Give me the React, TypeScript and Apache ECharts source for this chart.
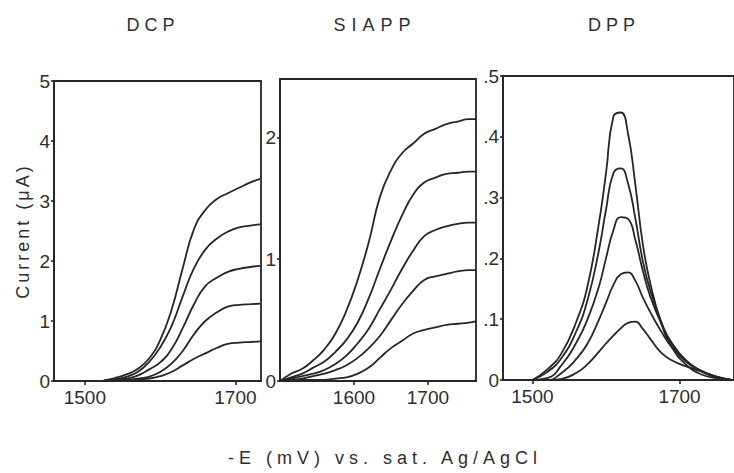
import React, { useEffect, useRef } from "react";
import * as echarts from "echarts";

// ---------- data ----------
const panelTitles = ["DCP", "SIAPP", "DPP"];
const yAxisName = "Current (μA)";
const xAxisName = "-E (mV) vs. sat. Ag/AgCl";

// DCP panel (µA)
const dcpX = [1525, 1540, 1555, 1570, 1585, 1600, 1615, 1630, 1645, 1660, 1675, 1690, 1705, 1720, 1733];
const dcp5 = [0.01, 0.05, 0.11, 0.2, 0.37, 0.68, 1.18, 1.88, 2.53, 2.85, 3.03, 3.13, 3.22, 3.31, 3.37];
const dcp4 = [0, 0.03, 0.07, 0.15, 0.31, 0.56, 0.91, 1.41, 1.88, 2.19, 2.37, 2.49, 2.56, 2.59, 2.61];
const dcp3 = [0, 0.02, 0.04, 0.09, 0.19, 0.31, 0.53, 0.88, 1.28, 1.58, 1.72, 1.82, 1.87, 1.9, 1.92];
const dcp2 = [0, 0.01, 0.02, 0.04, 0.07, 0.15, 0.29, 0.5, 0.78, 1.0, 1.14, 1.24, 1.27, 1.28, 1.29];
const dcp1 = [0, 0, 0.01, 0.02, 0.04, 0.08, 0.15, 0.26, 0.37, 0.46, 0.55, 0.62, 0.64, 0.65, 0.66];

// SIAPP panel (µA)
const siappX = [1500, 1515, 1530, 1545, 1560, 1575, 1590, 1605, 1620, 1635, 1650, 1665, 1680, 1695, 1710, 1725, 1740, 1755, 1765];
const siapp5 = [0, 0.06, 0.1, 0.17, 0.26, 0.39, 0.58, 0.83, 1.14, 1.51, 1.73, 1.87, 1.95, 2.03, 2.07, 2.11, 2.13, 2.15, 2.15];
const siapp4 = [0, 0.03, 0.06, 0.11, 0.16, 0.24, 0.34, 0.48, 0.68, 0.92, 1.15, 1.36, 1.53, 1.63, 1.67, 1.7, 1.71, 1.72, 1.72];
const siapp3 = [0, 0.02, 0.04, 0.06, 0.09, 0.14, 0.21, 0.31, 0.43, 0.59, 0.75, 0.92, 1.07, 1.19, 1.24, 1.27, 1.29, 1.3, 1.3];
const siapp2 = [0, 0.01, 0.02, 0.04, 0.06, 0.09, 0.13, 0.19, 0.27, 0.37, 0.5, 0.63, 0.74, 0.83, 0.86, 0.88, 0.9, 0.91, 0.91];
const siapp1 = [0, 0, 0.01, 0.01, 0.01, 0.02, 0.03, 0.06, 0.11, 0.19, 0.27, 0.33, 0.39, 0.42, 0.44, 0.46, 0.47, 0.48, 0.49];

// DPP panel (µA)
const dppX = [1500, 1520, 1540, 1560, 1575, 1590, 1600, 1610, 1620, 1630, 1640, 1650, 1660, 1675, 1690, 1710, 1730, 1750, 1770];
const dpp5 = [0, 0.017, 0.045, 0.097, 0.155, 0.255, 0.34, 0.433, 0.44, 0.405, 0.32, 0.224, 0.16, 0.094, 0.053, 0.024, 0.009, 0.003, 0];
const dpp4 = [0, 0.013, 0.037, 0.081, 0.132, 0.211, 0.28, 0.34, 0.348, 0.323, 0.265, 0.196, 0.148, 0.096, 0.058, 0.029, 0.014, 0.004, 0];
const dpp3 = [0, 0.003, 0.025, 0.062, 0.1, 0.152, 0.2, 0.246, 0.268, 0.265, 0.23, 0.18, 0.138, 0.093, 0.06, 0.031, 0.014, 0.005, 0];
const dpp2 = [0, 0, 0.012, 0.035, 0.06, 0.098, 0.127, 0.156, 0.174, 0.177, 0.163, 0.136, 0.112, 0.08, 0.053, 0.03, 0.015, 0.005, 0];
const dpp1 = [0, 0, 0.002, 0.012, 0.026, 0.046, 0.06, 0.073, 0.085, 0.094, 0.096, 0.084, 0.068, 0.045, 0.032, 0.022, 0.014, 0.006, 0];

// tick labels
const dcpXTicks = [1500, 1700];
const siappXTicks = [1600, 1700];
const dppXTicks = [1500, 1700];
const dcpYTicks = [0, 1, 2, 3, 4, 5];
const siappYTicks = [0, 1, 2];
const dppYTicks = [0, 0.1, 0.2, 0.3, 0.4, 0.5];

// ---------- styling ----------
const INK = "#262626";
const FONT = "Liberation Sans, Arial, sans-serif";
const TICK_FS = 19;

function pairs(xs: number[], ys: number[]) {
  return xs.map((x, i) => [x, ys[i]]);
}

function xAxis(gridIndex: number, min: number, max: number, ticks: number[]) {
  return {
    type: "value",
    gridIndex,
    min,
    max,
    axisLine: { show: true, onZero: false, lineStyle: { color: INK, width: 1.8 } },
    axisTick: { show: true, inside: false, length: 4, customValues: ticks, lineStyle: { color: INK, width: 1.6 } },
    axisLabel: {
      customValues: ticks,
      margin: 7,
      fontSize: TICK_FS,
      color: "#2e2e2e",
      fontFamily: FONT,
      formatter: (v: number) => String(v),
    },
    splitLine: { show: false },
  };
}

function yAxis(gridIndex: number, min: number, max: number, ticks: number[], fmt: (v: number) => string, extra?: any) {
  return {
    type: "value",
    gridIndex,
    min,
    max,
    axisLine: { show: true, onZero: false, lineStyle: { color: INK, width: 1.8 } },
    axisTick: { show: true, inside: false, length: 3, customValues: ticks, lineStyle: { color: INK, width: 1.6 } },
    axisLabel: { customValues: ticks, margin: 4, fontSize: TICK_FS, color: "#2e2e2e", fontFamily: FONT, formatter: fmt },
    splitLine: { show: false },
    ...(extra || {}),
  };
}

function lineSeries(xi: number, data: number[][]) {
  return {
    type: "line",
    xAxisIndex: xi,
    yAxisIndex: xi,
    data,
    smooth: 0.5,
    showSymbol: false,
    symbol: "none",
    lineStyle: { color: INK, width: 1.8 },
    silent: true,
  };
}

const letterSpacing: Record<string, number> = {
  DCP: 5,
  SIAPP: 6,
  DPP: 5,
  [yAxisName]: 3,
  [xAxisName]: 5,
};

export default function App() {
  const ref = useRef<HTMLDivElement>(null);

  useEffect(() => {
    document.body.style.margin = "0";
    const el = ref.current!;
    const chart = echarts.init(el, undefined, { renderer: "svg" });

    const gridStyle = { show: true, borderColor: INK, borderWidth: 1.8, backgroundColor: "transparent" };

    const titleStyle = { fontSize: 18, fill: "#2e2e2e", fontFamily: FONT, textAlign: "center", textVerticalAlign: "middle" };

    chart.setOption({
      animation: false,
      backgroundColor: "#ffffff",
      grid: [
        { left: 54, top: 81, width: 207, height: 300, ...gridStyle },
        { left: 280, top: 79, width: 196, height: 302, ...gridStyle },
        { left: 503, top: 76, width: 232, height: 304, ...gridStyle },
      ],
      xAxis: [
        xAxis(0, 1459, 1734, dcpXTicks),
        xAxis(1, 1500, 1765, siappXTicks),
        xAxis(2, 1460, 1774, dppXTicks),
      ],
      yAxis: [
        yAxis(0, 0, 5, dcpYTicks, (v: number) => String(v), {
          name: yAxisName,
          nameLocation: "middle",
          nameRotate: 90,
          nameGap: 22,
          nameTextStyle: { fontSize: 18, color: "#2e2e2e", fontFamily: FONT },
        }),
        yAxis(1, 0, 2.48, siappYTicks, (v: number) => String(v)),
        yAxis(2, 0, 0.5, dppYTicks, (v: number) => (v === 0 ? "0" : String(v).replace(/^0/, ""))),
      ],
      series: [
        lineSeries(0, pairs(dcpX, dcp5)),
        lineSeries(0, pairs(dcpX, dcp4)),
        lineSeries(0, pairs(dcpX, dcp3)),
        lineSeries(0, pairs(dcpX, dcp2)),
        lineSeries(0, pairs(dcpX, dcp1)),
        lineSeries(1, pairs(siappX, siapp5)),
        lineSeries(1, pairs(siappX, siapp4)),
        lineSeries(1, pairs(siappX, siapp3)),
        lineSeries(1, pairs(siappX, siapp2)),
        lineSeries(1, pairs(siappX, siapp1)),
        lineSeries(2, pairs(dppX, dpp5)),
        lineSeries(2, pairs(dppX, dpp4)),
        lineSeries(2, pairs(dppX, dpp3)),
        lineSeries(2, pairs(dppX, dpp2)),
        lineSeries(2, pairs(dppX, dpp1)),
      ],
      graphic: [
        { type: "text", x: 153, y: 25, style: { text: panelTitles[0], ...titleStyle } },
        { type: "text", x: 375, y: 25, style: { text: panelTitles[1], ...titleStyle } },
        { type: "text", x: 614, y: 25, style: { text: panelTitles[2], ...titleStyle } },
        { type: "text", x: 385, y: 458, style: { text: xAxisName, ...titleStyle } },
      ],
    });

    const apply = () => {
      el.querySelectorAll("text").forEach((t) => {
        const s = letterSpacing[(t.textContent || "").trim()];
        if (s) t.setAttribute("letter-spacing", String(s));
      });
    };
    apply();
    chart.on("finished", apply);

    return () => {
      chart.dispose();
    };
  }, []);

  return (
    <div
      ref={ref}
      style={{ position: "absolute", left: 0, top: 0, width: 734, height: 473, background: "#fff" }}
    />
  );
}
